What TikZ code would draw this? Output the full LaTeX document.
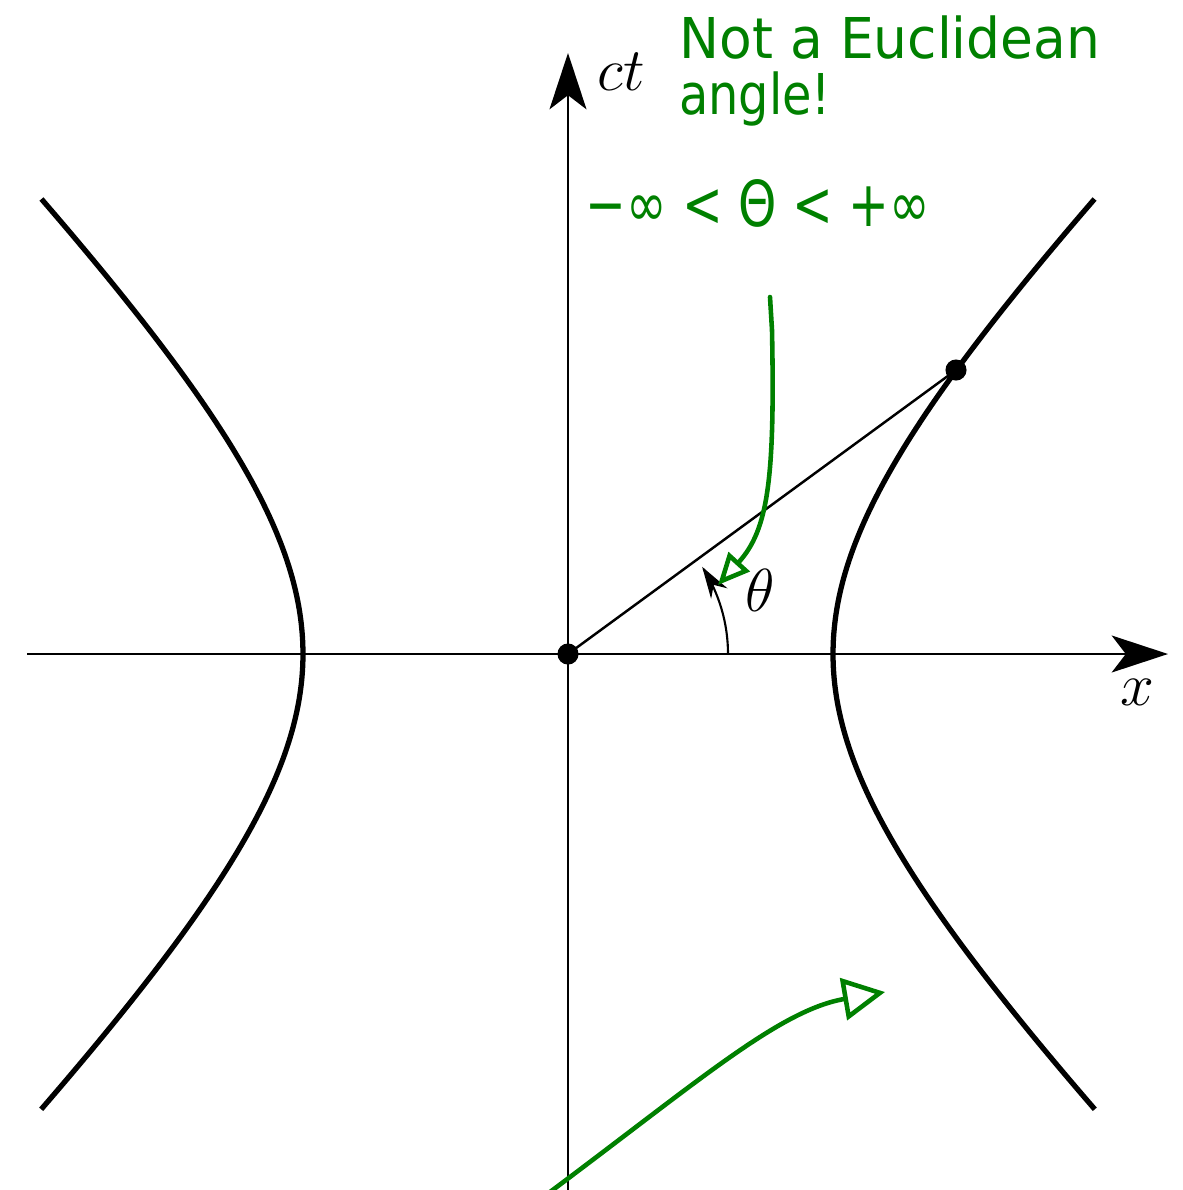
\documentclass[tikz,border=0pt]{standalone}
\usepackage{fontspec}
\newfontfamily\handfont{DejaVu Sans}
\usetikzlibrary{arrows.meta}
\definecolor{penink}{RGB}{0,128,0}
\begin{document}
\begin{tikzpicture}[x=0.01cm,y=-0.01cm,
  axis/.style={line width=0.75pt, -{Stealth[length=16pt,width=10.5pt,inset=4pt]}},
  hyp/.style={line width=1.5pt},
  ray/.style={line width=0.7pt},
  bigdot/.style={circle, fill=black, inner sep=0pt, minimum size=6pt},
  mathlabel/.style={font=\fontsize{17}{20}\selectfont, inner sep=0pt},
  note/.style={text=penink, font=\handfont\fontsize{16}{18}\selectfont, xscale=0.85, inner sep=0pt},
  scribble/.style={draw=penink, line width=1.3pt, line cap=round, line join=round},
]
\useasboundingbox (0,0) rectangle (1183,1190);
% axes
\coordinate (xs) at (27,654);
\coordinate (xe) at (1168,654);
\coordinate (ys) at (568,1190);
\coordinate (ye) at (568,53);
\draw[axis] (xs) -- (xe);
\draw[axis] (ys) -- (ye);
% hyperbolas
\draw[hyp] plot[domain=-1.31:1.31, samples=80, smooth] ({568+265*cosh(\x)},{654-265*sinh(\x)});
\draw[hyp] plot[domain=-1.31:1.31, samples=80, smooth] ({568-265*cosh(\x)},{654-265*sinh(\x)});
% ray and points
\node[bigdot] (O) at (568,654) {};
\node[bigdot] (P) at (956,370) {};
\draw[ray] (O.center) -- (P.center);
% angle arc
\draw[line width=0.6pt, -{Stealth[length=9pt,width=5.5pt]}] plot[domain=0:33, samples=30, smooth] ({568+160*cos(\x)},{654-160*sin(\x)});
% labels
\node[mathlabel] (ct) at (621,72) {$ct$};
\node[mathlabel] (xl) at (1137,692) {$x$};
\node[mathlabel] (th) at (760,590) {$\theta$};
% green notes
\node[note, anchor=base, xscale=0.95/0.85] (n1) at (890,58) {Not a Euclidean};
\node[note, anchor=base] (n2) at (755,114) {angle!};
\node[note, anchor=base, font=\handfont\fontsize{18}{22}\selectfont, xscale=0.77/0.85] (n3) at (758,226) {−∞ < Θ < +∞};
% green arrows
\coordinate (a1s) at (770,297);
\coordinate (a1e) at (718,585);
\draw[scribble, -{Triangle[open,length=9pt,width=8pt]}] (a1s) -- (772,330) .. controls (775,480) and (768,530) .. (a1e);
\coordinate (a2s) at (550,1192);
\coordinate (a2e) at (885,992);
\draw[scribble, -{Triangle[open,length=12pt,width=12pt]}] (a2s) .. controls (700,1080) and (780,1010) .. (a2e);
\end{tikzpicture}
\end{document}
